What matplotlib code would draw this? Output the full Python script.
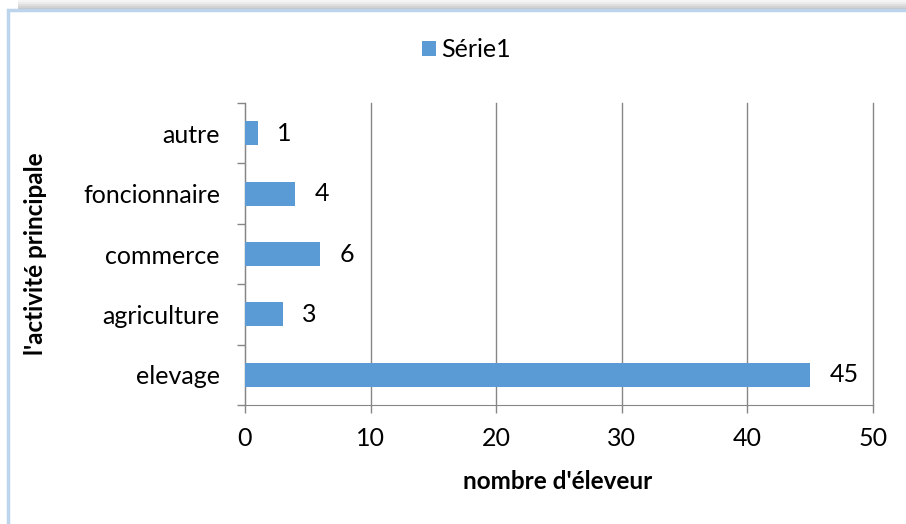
import matplotlib.pyplot as plt
from matplotlib.patches import Rectangle

categories = ["elevage", "agriculture", "commerce", "foncionnaire", "autre"]
values = [45, 3, 6, 4, 1]
series_name = "Série1"

plt.rcParams.update({
    "font.family": ["Lato", "DejaVu Sans"],
})

fig = plt.figure(figsize=(9.06, 5.24), dpi=100)

# chart frame with a shadow on top, like the Excel export
for i, a in enumerate([0.08, 0.15, 0.25, 0.35, 0.45]):
    fig.patches.append(Rectangle((0.02, 1 - (i + 1) * 0.004), 1.0, 0.004,
                                 transform=fig.transFigure, color="grey",
                                 alpha=a, lw=0, zorder=-10))
fig.patches.append(Rectangle((0.009, -0.05), 1.0, 1.03, transform=fig.transFigure,
                             facecolor="white", edgecolor="#bcd4ec", lw=2.5,
                             zorder=-9))

ax = fig.add_axes([0.2704, 0.2271, 0.6932, 0.5763])
ax.patch.set_alpha(0)
ypos = range(len(categories))
bars = ax.barh(ypos, values, height=0.4, color="#5b9bd5", label=series_name, zorder=3)

for b, v in zip(bars, values):
    ax.annotate(str(v), (b.get_width(), b.get_y() + b.get_height() / 2),
                xytext=(14, 0), textcoords="offset points",
                va="center", ha="left", fontsize=18)

ax.set_xlim(0, 50)
ax.set_ylim(-0.5, len(categories) - 0.5)
ax.set_xticks(range(0, 51, 10))
ax.set_yticks(list(ypos))
ax.set_yticklabels(categories)
ax.set_yticks([i - 0.5 for i in range(len(categories) + 1)], minor=True)
ax.tick_params(axis="y", which="major", length=0, labelsize=18, pad=18)
ax.tick_params(axis="y", which="minor", length=6, color="#868686", width=1)
ax.tick_params(axis="x", length=6, color="#868686", width=1, labelsize=18, pad=10)
ax.grid(axis="x", color="#868686", lw=1, zorder=0)
for line in ax.get_xgridlines():
    line.set_clip_on(False)
for s in ["top", "right"]:
    ax.spines[s].set_visible(False)
for s in ["left", "bottom"]:
    ax.spines[s].set_color("#868686")

ax.set_xlabel("nombre d'éleveur", fontsize=17.5, fontweight="bold")
ax.set_ylabel("l'activité principale", fontsize=17.5, fontweight="bold")
ax.xaxis.set_label_coords(0.498, -0.215)
ax.yaxis.set_label_coords(-0.316, 0.5)

fig.legend(handles=[bars], labels=[series_name], loc="center",
           bbox_to_anchor=(0.515, 0.905), frameon=False, fontsize=18,
           handlelength=0.55, handleheight=0.55, handletextpad=0.2)

fig.savefig("out.png", dpi=100)
